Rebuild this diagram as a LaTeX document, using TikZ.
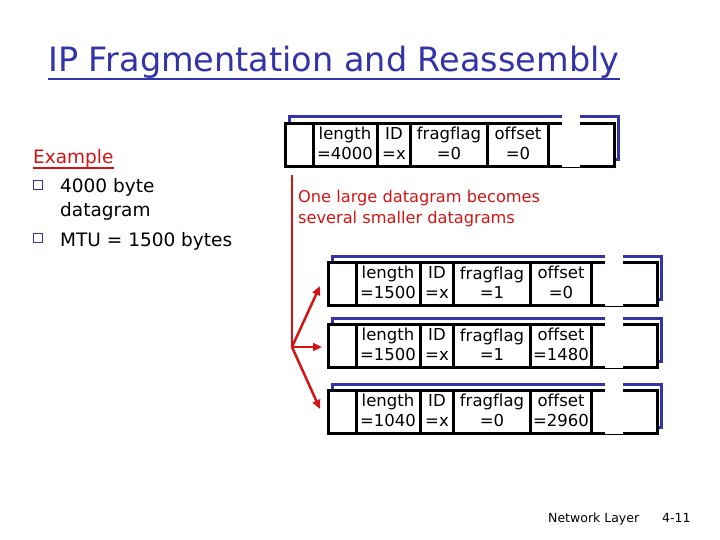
\documentclass[tikz,border=0pt]{standalone}
\usepackage{fontspec}
\setmainfont[Ligatures=NoCommon]{DejaVu Sans}
\usepackage{tikz}
\usetikzlibrary{positioning, arrows.meta, calc}
\definecolor{slideblue}{RGB}{51,51,170}
\definecolor{slidered}{RGB}{210,20,20}
\tikzset{pktbox/.style={draw, line width=3pt, fill=white, minimum width=329pt, minimum height=43pt, inner sep=0pt, anchor=north west},pktshadow/.style={draw=slideblue, line width=3pt},field/.style={align=center, inner sep=0pt, font=\fontsize{16.5}{19.5}\selectfont},split/.style={-{Triangle[length=9pt, width=8pt]}, slidered, line width=2.5pt}}

\begin{document}
\begin{tikzpicture}[x=1pt, y=-1pt,
   title/.style={anchor=base west, inner sep=0pt, text=slideblue, font=\fontsize{33.5}{38}\selectfont},
   item/.style={anchor=base west, inner sep=0pt, font=\fontsize{18.5}{22}\selectfont},
   bulletbox/.style={draw=slideblue, line width=1.1pt, minimum size=8.5pt, inner sep=0pt},
   note/.style={anchor=north west, inner sep=0pt, align=left, text=slidered, font=\fontsize{16.2}{21}\selectfont}]
  \useasboundingbox (0,0) rectangle (720,540);

  % Title
  \node[title] (title) at (48,72) {IP Fragmentation and Reassembly};
  \draw[slideblue, line width=2.5pt] ([yshift=-7pt]title.base west) -- ([yshift=-7pt]title.base east);

  % Example
  \node[item, text=slidered] (example) at (33,164) {Example};
  \draw[slidered, line width=1.5pt] ([yshift=-4pt]example.base west) -- ([yshift=-4pt]example.base east);
  \node[bulletbox] (b1) at (38,185) {};
  \node[item] (item1) at (60,193) {4000 byte};
  \node[item] (item1b) at (60,217) {datagram};
  \node[bulletbox] (b2) at (38,238) {};
  \node[item] (item2) at (60,246) {MTU = 1500 bytes};

  % Datagram and its fragments
  \foreach \name/\x/\y/\len/\flag/\off in {orig/284/122/4000/0/0, frag1/327/261/1500/1/0,
      frag2/327/323/1500/1/1480, frag3/327/389/1040/0/2960} {
    \draw[pktshadow] (\x+5,\y-5) rectangle (\x+334,\y+38);
    \node[pktbox] (\name) at (\x,\y) {};
    \foreach \dx in {29,93.5,126,203.5,264.5}
      \draw[line width=3pt] ([xshift=\dx pt]\name.north west) -- ([xshift=\dx pt]\name.south west);
    \fill[white] (\x+278,\y-7) rectangle (\x+296,\y+45);
    \node[field] (\name-len) at (\x+61,\y+21.5) {length\\=\len};
    \node[field] (\name-id) at (\x+110,\y+21.5) {ID\\=x};
    \node[field] (\name-flag) at (\x+165,\y+21.5) {fragflag\\=\flag};
    \node[field] (\name-off) at (\x+234,\y+21.5) {offset\\=\off};
  }

  % Fragmentation
  \node[note] (note) at (298,190) {One large datagram becomes\\several smaller datagrams};
  \coordinate (splittop) at ([xshift=8pt, yshift=-7pt]orig.south west);
  \coordinate (fork) at (292,347);
  \draw[slidered, line width=2.5pt] (splittop) -- (fork);
  \draw[split] (fork) -- ([xshift=-7pt, yshift=-2pt]frag1.west);
  \draw[split] (fork) -- ([xshift=-5pt, yshift=-1pt]frag2.west);
  \draw[split] (fork) -- ([xshift=-7pt, yshift=3pt]frag3.west);

  % Footer
  \node[anchor=base west, inner sep=0pt, font=\fontsize{12.5}{15}\selectfont] (footer) at (548,522) {Network Layer};
  \node[anchor=base west, inner sep=0pt, font=\fontsize{12.5}{15}\selectfont] (page) at (662,522) {4-11};
\end{tikzpicture}
\end{document}
